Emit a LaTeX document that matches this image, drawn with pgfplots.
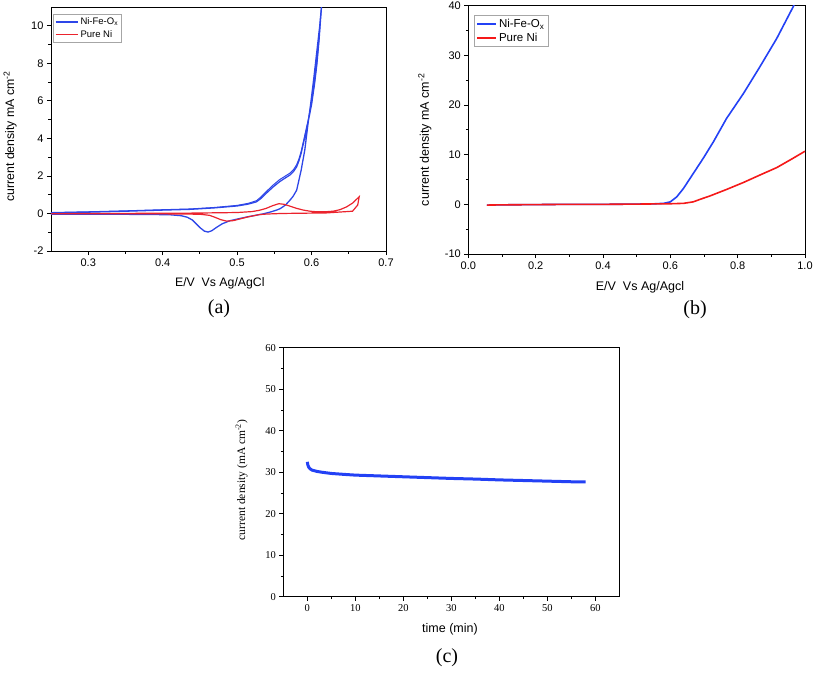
\documentclass[border=0pt]{standalone}
\usepackage{fontspec}
\setmainfont{Liberation Serif}
\setsansfont{Liberation Sans}
\usepackage{pgfplots}
\pgfplotsset{compat=1.18}
\definecolor{cvblue}{RGB}{45,70,232}
\definecolor{cvred}{RGB}{235,35,45}
\definecolor{lsvblue}{RGB}{35,65,245}
\definecolor{lsvred}{RGB}{245,25,25}
\pgfplotsset{
  panel/.style={
    scale only axis,
    axis line style={black, line width=0.9pt},
    tick align=outside,
    xtick pos=bottom, ytick pos=left,
    major tick length=4pt, minor tick length=2.5pt,
    every tick/.style={black, line width=0.8pt},
    minor x tick num=1, minor y tick num=1,
    /pgf/number format/assume math mode=true,
    clip=true,
  },
}
\begin{document}
\begin{tikzpicture}[x=1pt,y=1pt]
\useasboundingbox (0,0) rectangle (813,-673);

% ---------------- (a) ----------------
\begin{axis}[panel,
  at={(51pt,-251pt)}, anchor=south west,
  width=335pt, height=244pt,
  xmin=0.25, xmax=0.7, ymin=-2, ymax=11,
  xtick={0.3,0.4,0.5,0.6,0.7}, ytick={-2,0,2,4,6,8,10},
  xticklabels={0.3,0.4,0.5,0.6,0.7},
  tick label style={font=\sffamily\fontsize{11}{12}\selectfont},
  xlabel={E/V\ \ Vs Ag/AgCl},
  ylabel={current density mA cm\textsuperscript{-2}},
  label style={font=\sffamily\fontsize{12.3}{14}\selectfont},
  xlabel style={at={(axis description cs:0.504,-0.131)}, anchor=center},
  ylabel style={at={(axis description cs:-0.122,0.47)}, anchor=center},
  legend style={at={(axis description cs:0.006,0.972)}, anchor=north west,
    draw=gray!70, line width=0.8pt, font=\sffamily\fontsize{9.5}{11}\selectfont,
    inner sep=1.5pt, row sep=0pt, cells={anchor=west}},
  legend image code/.code={\draw[#1] (0pt,0pt) -- (22pt,0pt);},
]
\addlegendimage{cvblue, line width=1.6pt}
\addlegendentry{Ni-Fe-O\textsubscript{x}}
\addlegendimage{cvred, line width=1.6pt}
\addlegendentry{Pure Ni}
\addplot[cvblue, line width=1.3pt, forget plot] coordinates {
(0.25,0.03) (0.30,0.07) (0.35,0.12) (0.40,0.18) (0.437,0.22) (0.47,0.30) (0.50,0.40)
(0.515,0.50) (0.526,0.62) (0.532,0.80) (0.539,1.07) (0.548,1.40) (0.557,1.69)
(0.565,1.90) (0.571,2.05) (0.576,2.25) (0.580,2.49) (0.583,2.80) (0.586,3.20)
(0.590,3.90) (0.595,4.80) (0.600,5.80) (0.604,6.90) (0.607,7.90) (0.610,9.20)
(0.612,10.30) (0.614,11.3)
(0.611,10.0) (0.607,8.6) (0.603,7.2) (0.599,5.9) (0.595,4.7) (0.591,3.4)
(0.586,2.30) (0.580,1.24) (0.575,0.90) (0.571,0.71) (0.565,0.45) (0.558,0.26)
(0.553,0.18) (0.545,0.08) (0.535,-0.02) (0.526,-0.09) (0.515,-0.17) (0.500,-0.30)
(0.490,-0.39) (0.480,-0.55) (0.472,-0.75) (0.466,-0.92) (0.461,-0.99) (0.456,-0.94)
(0.450,-0.75) (0.445,-0.55) (0.440,-0.35) (0.433,-0.20) (0.425,-0.12) (0.410,-0.07)
(0.38,-0.05) (0.30,-0.04) (0.25,-0.04)
};
\addplot[cvred, line width=1.2pt, forget plot] coordinates {
(0.25,0.00) (0.30,0.00) (0.40,0.01) (0.44,0.02) (0.50,0.05) (0.52,0.10)
(0.530,0.17) (0.539,0.27) (0.548,0.42) (0.556,0.52) (0.563,0.49) (0.571,0.39)
(0.580,0.27) (0.589,0.18) (0.598,0.12) (0.607,0.09) (0.618,0.09) (0.629,0.12)
(0.638,0.20) (0.647,0.35) (0.655,0.55) (0.664,0.89)
(0.662,0.45) (0.655,0.12) (0.620,0.03) (0.600,0.02) (0.560,0.00) (0.540,-0.03)
(0.530,-0.06) (0.515,-0.18) (0.504,-0.29) (0.495,-0.38) (0.486,-0.41) (0.478,-0.33)
(0.470,-0.20) (0.463,-0.10) (0.450,-0.04) (0.40,-0.02) (0.30,-0.02) (0.25,-0.02)
};
\addplot[cvblue, line width=1.0pt, forget plot] coordinates {
(0.25,0.05) (0.30,0.09) (0.35,0.14) (0.40,0.20) (0.437,0.24) (0.47,0.32) (0.50,0.43)
(0.515,0.54) (0.526,0.68) (0.532,0.88) (0.539,1.16) (0.548,1.50) (0.557,1.80)
(0.565,2.00) (0.571,2.15) (0.576,2.35) (0.580,2.60) (0.583,2.90) (0.586,3.30)
(0.590,4.00) (0.595,4.90) (0.600,5.90) (0.604,7.00) (0.607,8.00) (0.610,9.30)
(0.612,10.40) (0.614,11.3)
};
\end{axis}

% ---------------- (b) ----------------
\begin{axis}[panel,
  at={(468.3pt,-254pt)}, anchor=south west,
  width=336.7pt, height=248.3pt,
  xmin=0, xmax=1.0, ymin=-10, ymax=40,
  xtick={0,0.2,0.4,0.6,0.8,1.0}, ytick={-10,0,10,20,30,40},
  xticklabels={0.0,0.2,0.4,0.6,0.8,1.0},
  tick label style={font=\sffamily\fontsize{11}{12}\selectfont},
  xlabel={E/V\ \ Vs Ag/Agcl},
  ylabel={current density mA cm\textsuperscript{-2}},
  label style={font=\sffamily\fontsize{12.5}{14}\selectfont},
  xlabel style={at={(axis description cs:0.51,-0.133)}, anchor=center},
  ylabel style={at={(axis description cs:-0.129,0.46)}, anchor=center},
  legend style={at={(axis description cs:0.017,0.964)}, anchor=north west,
    draw=gray!70, line width=0.8pt, font=\sffamily\fontsize{11.5}{13}\selectfont,
    inner sep=2pt, row sep=0pt, cells={anchor=west}},
  legend image code/.code={\draw[#1] (0pt,0pt) -- (19pt,0pt);},
]
\addplot[lsvblue, line width=1.6pt] coordinates {
(0.055,-0.15) (0.10,-0.1) (0.20,-0.05) (0.30,0.0) (0.40,0.0) (0.50,0.05)
(0.55,0.1) (0.58,0.2) (0.60,0.5) (0.619,1.5) (0.639,3.2) (0.668,6.2)
(0.698,9.3) (0.728,12.6) (0.767,17.3) (0.817,22.3) (0.866,27.7) (0.916,33.4)
(0.965,39.8) (0.968,40.3)
};
\addlegendentry{Ni-Fe-O\textsubscript{x}}
\addplot[lsvred, line width=1.6pt] coordinates {
(0.055,-0.15) (0.10,-0.1) (0.20,-0.05) (0.30,0.0) (0.40,0.0) (0.50,0.05)
(0.60,0.12) (0.639,0.2) (0.668,0.5) (0.688,1.0) (0.718,1.7) (0.767,3.0)
(0.817,4.4) (0.866,5.9) (0.916,7.4) (0.965,9.3) (1.0,10.7)
};
\addlegendentry{Pure Ni}
\end{axis}

% ---------------- (c) ----------------
\begin{axis}[panel,
  at={(283.3pt,-596.7pt)}, anchor=south west,
  width=336pt, height=249pt,
  xmin=-5, xmax=65, ymin=0, ymax=60,
  xtick={0,10,...,60}, ytick={0,10,...,60},
  tick label style={font=\rmfamily\fontsize{10.5}{12}\selectfont},
  xlabel={time (min)},
  ylabel={current density (mA cm\textsuperscript{-2})},
  xlabel style={font=\sffamily\fontsize{12.5}{14}\selectfont, at={(axis description cs:0.496,-0.13)}, anchor=center},
  ylabel style={font=\rmfamily\fontsize{11.5}{13}\selectfont, at={(axis description cs:-0.124,0.469)}, anchor=center},
]
\addplot[lsvblue, line width=3pt] coordinates {
(0,32.5) (0.1,31.8) (0.3,31.2) (0.6,30.8) (1,30.5) (2,30.2) (3,30.0)
(5,29.7) (8,29.45) (10,29.3) (15,29.1) (20,28.9) (25,28.7) (30,28.5)
(35,28.35) (40,28.15) (45,28.0) (50,27.85) (55,27.7) (58,27.65)
};
\end{axis}

% captions
\node[font=\rmfamily\fontsize{20}{22}\selectfont] at (219,-309) {(a)};
\node[font=\rmfamily\fontsize{20}{22}\selectfont] at (695,-310) {(b)};
\node[font=\rmfamily\fontsize{20}{22}\selectfont] at (447,-658) {(c)};
\end{tikzpicture}
\end{document}
